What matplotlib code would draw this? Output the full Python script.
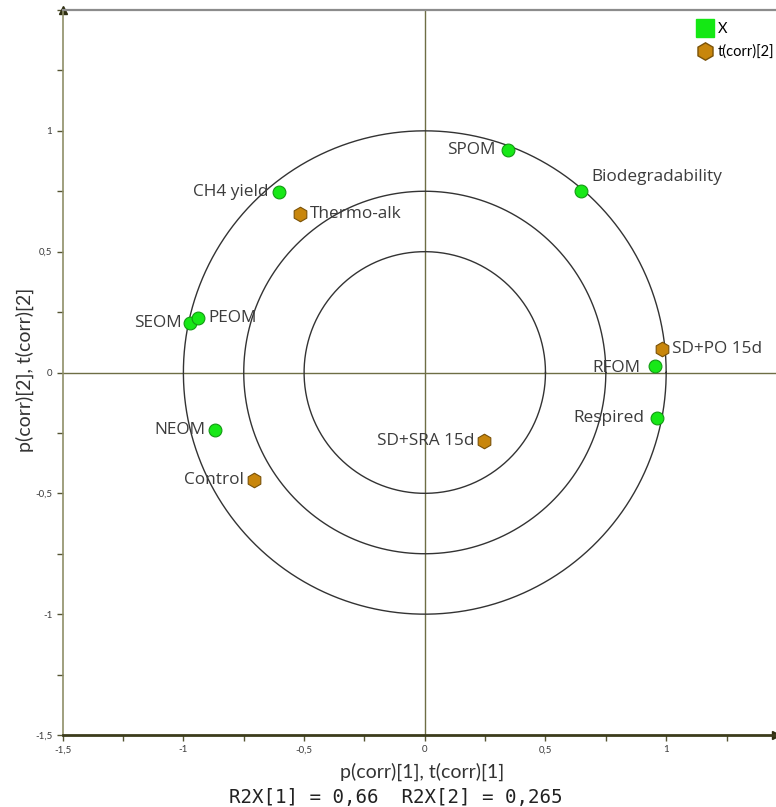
import matplotlib
matplotlib.use("Agg")
import matplotlib.pyplot as plt
from matplotlib.lines import Line2D
from matplotlib.ticker import MultipleLocator, FuncFormatter
import numpy as np

# loadings (X) and scores t(corr)[2] on the correlation scale
var_names = ["SPOM", "Biodegradability", "CH4 yield", "SEOM", "PEOM", "NEOM", "RFOM", "Respired"]
var_x = [0.344, 0.647, -0.605, -0.972, -0.939, -0.867, 0.953, 0.961]
var_y = [0.921, 0.749, 0.745, 0.203, 0.224, -0.239, 0.025, -0.189]

obs_names = ["Thermo-alk", "SD+PO 15d", "SD+SRA 15d", "Control"]
obs_x = [-0.519, 0.981, 0.247, -0.709]
obs_y = [0.656, 0.096, -0.284, -0.446]

circle_radii = [1.0, 0.75, 0.5]

# label offsets in pixels (dx, dy, ha)
var_offsets = [(-12, 0, "right"), (10, 14, "left"), (-10, 0, "right"), (-8, 0, "right"),
               (10, 0, "left"), (-10, 0, "right"), (-14, -2, "right"), (-12, 0, "right")]
obs_offsets = [(10, 0, "left"), (10, 0, "left"), (-10, 0, "right"), (-10, 0, "right")]

plt.rcParams["font.family"] = ["Open Sans", "DejaVu Sans"]

fig = plt.figure(figsize=(7.76, 8.07), dpi=100)
ax = fig.add_axes([62.7 / 776, 72 / 807, 1 - 62.7 / 776, 725 / 807])
ax.set_xlim(-1.5, 1.455)
ax.set_ylim(-1.5, 1.5)

olive = "#6e6e45"
ax.spines["right"].set_visible(False)
ax.spines["top"].set_color("#8c8c8c")
ax.spines["top"].set_linewidth(1.6)
ax.spines["left"].set_color("#8f8f68")
ax.spines["left"].set_linewidth(1.2)
ax.spines["bottom"].set_color("#3c3c1c")
ax.spines["bottom"].set_linewidth(2.0)

# arrow heads on the axes
ax.plot(0, 1, marker="^", color="#2e2e10", markersize=6, transform=ax.transAxes, clip_on=False)
ax.plot(1, 0, marker=">", color="#2e2e10", markersize=6, transform=ax.transAxes, clip_on=False)

ax.axhline(0, color=olive, lw=1.0, zorder=1)
ax.axvline(0, color=olive, lw=1.0, zorder=1)

t = np.linspace(0, 2 * np.pi, 400)
for r in circle_radii:
    ax.plot(r * np.cos(t), r * np.sin(t), color="#333333", lw=1.0, zorder=2)

ax.scatter(var_x, var_y, s=85, marker="o", facecolor="#17e817", edgecolor="#139a13",
           linewidth=0.8, zorder=4)
ax.scatter(obs_x, obs_y, s=110, marker="h", facecolor="#c8860c", edgecolor="#7a5208",
           linewidth=0.8, zorder=4)

for name, x, y, (dx, dy, ha) in zip(var_names, var_x, var_y, var_offsets):
    ax.annotate(name, (x, y), xytext=(dx, dy), textcoords="offset pixels",
                ha=ha, va="center", fontsize=12.4, color="#3c3c3c", zorder=3)
for name, x, y, (dx, dy, ha) in zip(obs_names, obs_x, obs_y, obs_offsets):
    ax.annotate(name, (x, y), xytext=(dx, dy), textcoords="offset pixels",
                ha=ha, va="center", fontsize=12.4, color="#3c3c3c", zorder=3)

comma = FuncFormatter(lambda v, p: ("%g" % v).replace(".", ","))
ax.xaxis.set_major_locator(MultipleLocator(0.5))
ax.yaxis.set_major_locator(MultipleLocator(0.5))
ax.xaxis.set_minor_locator(MultipleLocator(0.25))
ax.yaxis.set_minor_locator(MultipleLocator(0.25))
ax.xaxis.set_major_formatter(comma)
ax.yaxis.set_major_formatter(comma)
ax.tick_params(which="both", direction="out", color="#555533", length=4, width=1,
               labelsize=7, labelcolor="#3a3a3a")
ax.tick_params(top=False, right=False)
ax.set_yticks([-1.5, -1, -0.5, 0, 0.5, 1])
ax.set_xticks([-1.5, -1, -0.5, 0, 0.5, 1])
for lbl in ax.get_xticklabels() + ax.get_yticklabels():
    lbl.set_family(["Lato", "DejaVu Sans"])

fig.text(422 / 776, 1 - 772 / 807, "p(corr)[1], t(corr)[1]", ha="center", va="center",
         fontsize=14, family=["Lato", "DejaVu Sans"], color="#333333")
fig.text(25 / 776, 1 - 370 / 807, "p(corr)[2], t(corr)[2]", ha="center", va="center",
         rotation=90, fontsize=14, family=["Lato", "DejaVu Sans"], color="#333333")
fig.text(396 / 776, 1 - 797 / 807, "R2X[1] = 0,66  R2X[2] = 0,265", ha="center",
         va="center", fontsize=13.8, family="DejaVu Sans Mono", color="#222222")

handles = [
    Line2D([], [], marker="s", ls="", markersize=13.5, markerfacecolor="#14e814",
           markeredgecolor="#14e814", label="X"),
    Line2D([], [], marker="h", ls="", markersize=12.5, markerfacecolor="#c8860c",
           markeredgecolor="#7a5208", label="t(corr)[2]"),
]
leg = ax.legend(handles=handles, loc="upper left", bbox_to_anchor=(0.8875, 0.983),
                frameon=False, fontsize=10.5, handlelength=1.2, handletextpad=0.33,
                labelspacing=0.55, borderpad=0, borderaxespad=0,
                prop={"family": ["Lato", "DejaVu Sans"], "size": 10.5})

fig.savefig("out.png", dpi=100)
